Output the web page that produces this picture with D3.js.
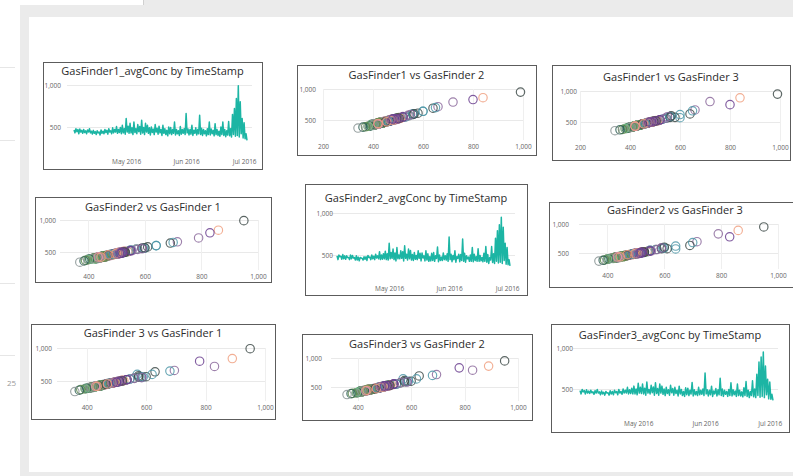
<!DOCTYPE html>
<html>
<head>
<meta charset="utf-8">
<script src="https://cdn.jsdelivr.net/npm/d3@7"></script>
<style>
  html, body { margin: 0; padding: 0; background: #fff; overflow: hidden; }
  svg { display: block; font-family: "Open Sans", sans-serif; }
</style>
</head>
<body>
<div id="viz-container"></div>
<script>
const width = 793, height = 476;

// average concentration, one value every 12 hours from Apr 4 2016 to Jul 2 2016
const startDate = "2016-04-04";
const gf1 = [
  465, 430, 480, 445, 470, 420, 475, 440, 460, 425,
  470, 435, 455, 420, 465, 440, 480, 430, 450, 415,
  460, 425, 445, 410, 455, 430, 440, 405, 465, 425,
  450, 420, 470, 435, 460, 415, 480, 440, 455, 420,
  490, 430, 470, 440, 505, 425, 470, 435, 495, 420,
  520, 430, 480, 415, 600, 440, 510, 425, 545, 430,
  490, 410, 560, 435, 480, 420, 530, 445, 505, 415,
  580, 430, 495, 410, 545, 440, 520, 425, 490, 405,
  500, 435, 475, 410, 530, 440, 485, 415, 510, 430,
  470, 400, 520, 425, 480, 410, 460, 395, 500, 420,
  495, 410, 470, 425, 560, 405, 470, 420, 455, 400,
  505, 415, 470, 425, 480, 410, 660, 430, 475, 405,
  470, 415, 520, 400, 460, 425, 490, 405, 470, 420,
  640, 410, 485, 400, 470, 420, 455, 395, 480, 410,
  560, 405, 475, 420, 460, 395, 540, 410, 470, 400,
  450, 390, 500, 410, 560, 400, 470, 385, 455, 405,
  565, 395, 480, 380, 650, 410, 720, 390, 840, 400,
  990, 380, 800, 420, 600, 370, 550, 360, 420, 340
];
const gf2 = [
  490, 445, 500, 480, 485, 450, 505, 455, 490, 450,
  490, 470, 470, 445, 500, 455, 495, 465, 470, 440,
  490, 440, 475, 430, 470, 465, 460, 440, 480, 450,
  480, 435, 495, 470, 475, 445, 500, 455, 485, 445,
  510, 465, 490, 455, 540, 445, 500, 450, 515, 455,
  545, 445, 515, 440, 640, 455, 530, 460, 570, 445,
  525, 430, 590, 455, 500, 455, 550, 460, 540, 430,
  610, 460, 510, 440, 570, 455, 555, 440, 505, 435,
  530, 450, 495, 445, 550, 460, 520, 430, 525, 465,
  490, 430, 550, 440, 515, 425, 480, 430, 520, 435,
  530, 425, 490, 460, 595, 420, 500, 435, 475, 435,
  525, 445, 490, 440, 515, 425, 715, 445, 510, 420,
  495, 445, 550, 415, 480, 460, 510, 420, 505, 435,
  690, 425, 520, 415, 490, 455, 475, 425, 500, 425,
  590, 420, 510, 435, 480, 425, 575, 425, 495, 430,
  470, 420, 520, 425, 600, 415, 505, 400, 470, 440,
  600, 410, 515, 400, 700, 425, 790, 405, 860, 415,
  950, 400, 830, 435, 640, 390, 590, 385, 445, 370
];
const gf3 = [
  480, 440, 495, 465, 480, 440, 490, 450, 475, 445,
  485, 455, 465, 435, 480, 450, 495, 450, 465, 430,
  475, 440, 460, 425, 470, 450, 455, 425, 480, 440,
  470, 430, 485, 455, 470, 430, 495, 450, 470, 435,
  500, 450, 485, 450, 520, 440, 490, 445, 510, 440,
  535, 440, 500, 430, 570, 450, 520, 445, 560, 440,
  510, 425, 585, 450, 495, 440, 545, 455, 525, 425,
  575, 445, 505, 425, 560, 450, 535, 435, 500, 420,
  520, 445, 490, 425, 545, 455, 505, 425, 520, 445,
  485, 415, 535, 440, 495, 420, 470, 410, 515, 430,
  510, 420, 485, 440, 580, 415, 490, 430, 470, 420,
  520, 430, 485, 435, 500, 420, 695, 440, 490, 415,
  485, 430, 535, 410, 475, 440, 505, 415, 490, 430,
  630, 420, 500, 410, 485, 435, 470, 410, 495, 420,
  575, 415, 490, 430, 475, 410, 560, 420, 485, 415,
  465, 405, 515, 420, 590, 410, 485, 395, 470, 420,
  600, 405, 500, 395, 680, 420, 830, 400, 890, 410,
  950, 395, 780, 430, 620, 380, 585, 375, 435, 360
];

// tick labels
const dateTicks = ["2016-05-01", "2016-06-01", "2016-07-01"];
const valueTicks = [500, 1000];
const xTicksWide = [200, 400, 600, 800, 1000];
const xTicksNarrow = [400, 600, 800, 1000];

const lineColor = "#1cb5a4";
const pointColors = ["#3d4a48", "#6fbf84", "#6b3f8f", "#e38fa8", "#4f98a8", "#5d8a4a", "#8c6a9c", "#2f5f55", "#f0a080", "#8a9494"];

const parse = d3.timeParse("%Y-%m-%d");
const times = gf1.map((_, i) => d3.timeHour.offset(parse(startDate), i * 12));
const seriesOf = n => [gf1, gf2, gf3][n - 1];

// where each small chart sits on the page
const panels = [
  { kind: "line", title: "GasFinder1_avgConc by TimeStamp", s: 1, box: [43, 62, 219, 107], titleY: 71, xr: [74, 247], yr: [127, 85], lab: 61, tickY: 162 },
  { kind: "scatter", title: "GasFinder1 vs GasFinder 2", sx: 1, sy: 2, box: [297, 65, 239, 90], titleY: 75, xd: [200, 1000], xr: [323, 523], yr: [120, 89], lab: 316, tickY: 147, xt: xTicksWide },
  { kind: "scatter", title: "GasFinder1 vs GasFinder 3", sx: 1, sy: 3, box: [552, 65, 238, 95], titleY: 77, xd: [200, 1000], xr: [580, 780], yr: [122, 91], lab: 577, tickY: 148, xt: xTicksWide },
  { kind: "scatter", title: "GasFinder2 vs GasFinder 1", sx: 2, sy: 1, box: [35, 197, 236, 85], titleY: 207, xd: [300, 1000], xr: [60, 258], yr: [252, 220], lab: 56, tickY: 277, xt: xTicksNarrow },
  { kind: "line", title: "GasFinder2_avgConc by TimeStamp", s: 2, box: [305, 184, 222, 111], titleY: 198, xr: [337, 510], yr: [255, 213], lab: 333, tickY: 289 },
  { kind: "scatter", title: "GasFinder2 vs GasFinder 3", sx: 2, sy: 3, box: [549, 202, 252, 85], titleY: 210, xd: [300, 1000], xr: [579, 778], yr: [253, 224], lab: 569, tickY: 276, xt: xTicksNarrow },
  { kind: "scatter", title: "GasFinder 3 vs GasFinder 1", sx: 3, sy: 1, box: [31, 324, 244, 95], titleY: 333, xd: [300, 1000], xr: [57, 265], yr: [381, 348], lab: 52, tickY: 408, xt: xTicksNarrow },
  { kind: "scatter", title: "GasFinder3 vs GasFinder 2", sx: 3, sy: 2, box: [302, 334, 230, 86], titleY: 344, xd: [300, 1000], xr: [331, 518], yr: [387, 358], lab: 322, tickY: 408, xt: xTicksNarrow },
  { kind: "line", title: "GasFinder3_avgConc by TimeStamp", s: 3, box: [551, 324, 238, 108], titleY: 335, xr: [580, 773], yr: [389, 348], lab: 573, tickY: 424 }
];

const svg = d3.select("#viz-container")
  .append("svg")
  .attr("width", width)
  .attr("height", height);

// page around the report canvas
svg.append("rect").attr("width", width).attr("height", height).attr("fill", "#fff");
svg.append("rect").attr("x", 20).attr("y", 5).attr("width", width - 20).attr("height", height - 5).attr("fill", "#ebebeb");
svg.append("rect").attr("x", 143).attr("y", 0).attr("width", width - 143).attr("height", 5).attr("fill", "#ebebeb");
svg.append("line").attr("x1", 143.5).attr("x2", 143.5).attr("y1", 0).attr("y2", 5).attr("stroke", "#d0d0d0");
svg.append("rect").attr("x", 29).attr("y", 17).attr("width", width - 29).attr("height", 455).attr("fill", "#fff");
[67, 140, 283, 355].forEach(yy => {
  svg.append("line").attr("x1", 0).attr("x2", 15).attr("y1", yy + 0.5).attr("y2", yy + 0.5).attr("stroke", "#e6e6e6");
});
svg.append("text").attr("x", 7).attr("y", 383).attr("dy", "0.35em")
  .attr("font-size", 8).attr("fill", "#999").text("25");

function styleTicks(a) {
  a.select(".domain").remove();
  a.selectAll("text")
    .attr("y", 0).attr("dy", "0.35em")
    .attr("font-size", 6.5).attr("fill", "#666")
    .attr("font-family", "'Open Sans', sans-serif");
}

function drawPanel(p) {
  const g = svg.append("g");
  const [bx, by, bw, bh] = p.box;

  g.append("rect")
    .attr("x", bx + 0.5).attr("y", by + 0.5)
    .attr("width", bw).attr("height", bh)
    .attr("fill", "#fff").attr("stroke", "#5c5c5c");

  g.append("text")
    .attr("x", bx + bw / 2).attr("y", p.titleY).attr("dy", "0.35em")
    .attr("text-anchor", "middle")
    .attr("font-size", 11).attr("fill", "#2b2b2b")
    .text(p.title);

  const y = d3.scaleLinear().domain([500, 1000]).range(p.yr);

  let x, gx0, gx1;
  if (p.kind === "line") {
    x = d3.scaleTime().domain(d3.extent(times)).range(p.xr);
    gx0 = p.xr[0] - 7; gx1 = p.xr[1] + 5;
  } else {
    x = d3.scaleLinear().domain(p.xd).range(p.xr);
    gx0 = p.xr[0]; gx1 = p.xr[1];
  }

  // gridlines
  g.selectAll(".hgrid")
    .data(valueTicks)
    .join("line")
    .attr("x1", gx0).attr("x2", gx1)
    .attr("y1", d => Math.round(y(d)) + 0.5).attr("y2", d => Math.round(y(d)) + 0.5)
    .attr("stroke", "#e9e9e9");

  if (p.kind === "scatter") {
    g.selectAll(".vgrid")
      .data(p.xt)
      .join("line")
      .attr("x1", d => Math.round(x(d)) + 0.5).attr("x2", d => Math.round(x(d)) + 0.5)
      .attr("y1", y(1000)).attr("y2", p.tickY - 7)
      .attr("stroke", "#efefef");
  }

  // axis labels
  g.append("g")
    .attr("transform", `translate(${p.lab},0)`)
    .call(d3.axisLeft(y).tickValues(valueTicks).tickFormat(d3.format(",")).tickSize(0).tickPadding(0))
    .call(styleTicks);

  const xAxis = p.kind === "line"
    ? d3.axisBottom(x).tickValues(dateTicks.map(parse)).tickFormat(d3.timeFormat("%b %Y"))
    : d3.axisBottom(x).tickValues(p.xt).tickFormat(d3.format(","));
  g.append("g")
    .attr("transform", `translate(0,${p.tickY})`)
    .call(xAxis.tickSize(0).tickPadding(0))
    .call(styleTicks);

  if (p.kind === "line") {
    g.append("path")
      .datum(seriesOf(p.s))
      .attr("fill", "none")
      .attr("stroke", lineColor)
      .attr("stroke-width", 1.5)
      .attr("stroke-linejoin", "round")
      .attr("d", d3.line().x((d, i) => x(times[i])).y(d => y(d)));
  } else {
    const xs = seriesOf(p.sx), ys = seriesOf(p.sy);
    g.selectAll("circle")
      .data(xs.map((v, i) => ({ v: v, w: ys[i], i: i })))
      .join("circle")
      .attr("cx", d => x(d.v))
      .attr("cy", d => y(d.w))
      .attr("r", 4.2)
      .attr("fill", "none")
      .attr("stroke", d => pointColors[d.i % pointColors.length])
      .attr("stroke-width", 1.15)
      .attr("opacity", 0.85);
  }
}

panels.forEach(drawPanel);
</script>
</body>
</html>
